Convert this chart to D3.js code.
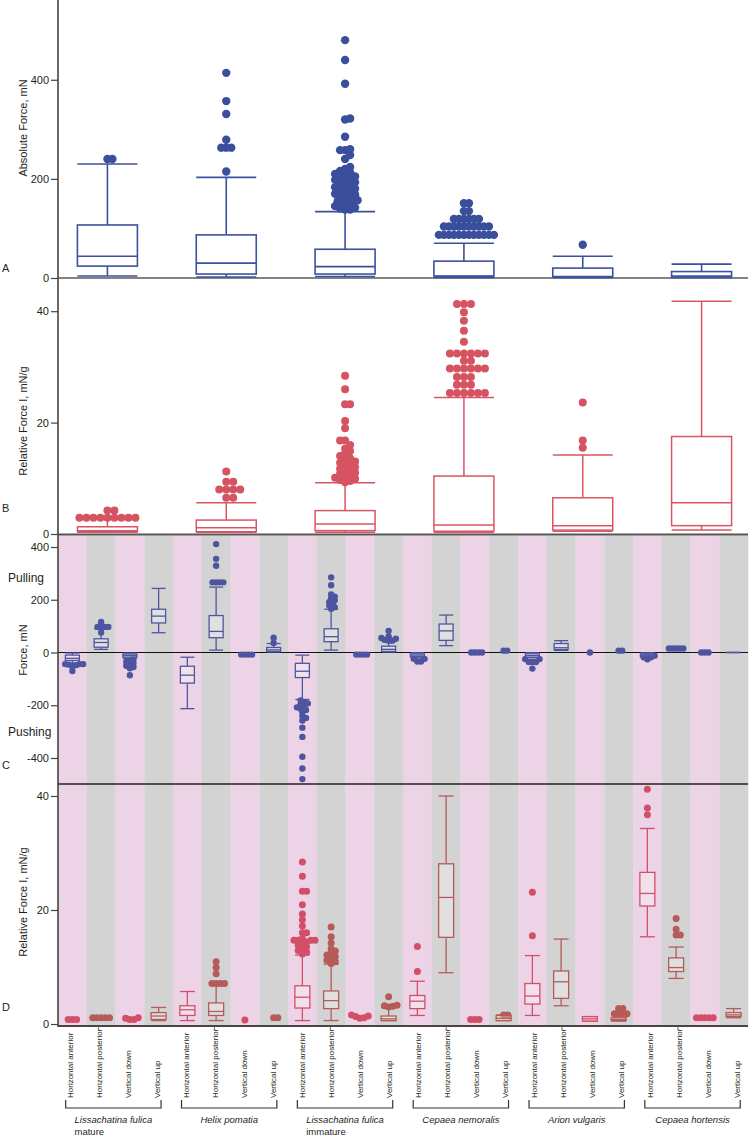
<!DOCTYPE html>
<html lang="en">
<head>
<meta charset="utf-8">
<script src="https://cdnjs.cloudflare.com/ajax/libs/d3/7.8.5/d3.min.js"></script>
<style>
body { margin: 0; background: #fff; }
svg { display: block; }
text { font-family: 'Liberation Sans', Arial, sans-serif; fill: #231f20; }
</style>
</head>
<body>
<svg width="749" height="1137"></svg>
<script>
const species = ['Lissachatina fulica mature', 'Helix pomatia', 'Lissachatina fulica immature',
  'Cepaea nemoralis', 'Arion vulgaris', 'Cepaea hortensis'];
const speciesLines = [['Lissachatina fulica', 'mature'], ['Helix pomatia'], ['Lissachatina fulica', 'immature'],
  ['Cepaea nemoralis'], ['Arion vulgaris'], ['Cepaea hortensis']];
const directions = ['Horizontal anterior', 'Horizontal posterior', 'Vertical down', 'Vertical up'];

// box stats: [low whisker, q1, median, q3, high whisker]
const absStats = [
  [4, 24, 44, 107, 230],
  [2, 8, 30, 87, 203],
  [3, 8, 23, 58, 134],
  [1, 3, 4, 34, 70],
  [1, 2, 3, 20, 44],
  [1, 2, 4, 13, 28]
];
const absOutliers = [
  [240, 240],
  [215, 263, 263, 263, 279, 331, 357, 414],
  [138, 138, 140, 142, 145, 147, 150, 152, 155, 157, 160, 163, 165, 168, 170, 173, 175, 178,
   180, 183, 185, 188, 190, 193, 196, 198, 200, 203, 205, 208, 210, 213, 216, 220, 224,
   240, 248, 258, 258, 260, 285, 320, 322, 392, 440, 480],
  [87, 87, 87, 87, 87, 87, 87, 87, 87, 87, 87, 87, 104, 104, 104, 104, 104, 104, 104, 104, 104, 104,
   119, 119, 119, 119, 119, 119, 135, 135, 151, 151],
  [67],
  []
];

const relStats = [
  [0.3, 0.4, 0.6, 1.3, 2.9],
  [0.3, 0.4, 1.1, 2.5, 5.6],
  [0.3, 0.6, 1.8, 4.2, 9.2],
  [0.3, 0.5, 1.6, 10.4, 24.5],
  [0.5, 0.7, 1.5, 6.5, 14.2],
  [0.7, 1.5, 5.6, 17.5, 41.8]
];
const relOutliers = [
  [2.9, 2.9, 2.9, 2.9, 2.9, 2.9, 2.9, 2.9, 2.9, 4.2, 4.2],
  [6.5, 6.5, 8.0, 8.0, 8.0, 8.0, 9.4, 9.4, 11.2],
  [9.3, 9.5, 9.7, 9.9, 10.1, 10.3, 10.5, 10.8, 11.0, 11.2, 11.5, 11.7, 12.0, 12.2, 12.5, 12.8, 13.0, 13.3,
   13.6, 14.0, 14.4, 14.9, 15.3, 16.0, 16.8, 16.8, 19.0, 20.3, 23.3, 23.3, 26.0, 28.4],
  [25.3, 25.3, 25.3, 25.3, 25.3, 25.3, 26.8, 26.8, 26.8, 28.2, 28.2, 28.2, 29.7, 29.7, 29.7, 29.7, 29.7, 29.7,
   31.1, 31.1, 32.4, 32.4, 32.4, 32.4, 32.4, 32.4, 34.5, 36.5, 38.3, 39.8, 41.3, 41.3, 41.3],
  [15.5, 16.8, 23.6],
  []
];

// 24 columns: species x direction
const forceStats = [
  [-40, -30, -22, -10, -2], [12, 20, 38, 52, 90], [-22, -18, -12, -6, -2], [75, 112, 138, 164, 243],
  [-213, -116, -86, -52, -18], [9, 56, 80, 140, 248], null, [2, 4, 10, 19, 34],
  [-178, -95, -71, -41, -10], [9, 41, 60, 90, 164], null, [2, 4, 12, 24, 41],
  [-20, -16, -10, -5, -1], [26, 46, 82, 108, 142], null, null,
  [-20, -18, -12, -5, -1], [8, 11, 18, 34, 45], null, null,
  [-18, -15, -10, -5, -1], null, null, [0, 0, 0, 0, 0]
];
const forceOutliers = [
  [-44, -44, -44, -46, -48, -52, -70], [76, 97, 97, 97, 97, 116],
  [-25, -30, -35, -40, -45, -50, -55, -60, -86], [],
  [], [266, 266, 266, 266, 329, 355, 411], [-8, -8, -8, -8], [36, 56],
  [-182, -188, -193, -198, -203, -208, -213, -218, -225, -240, -248, -258, -285, -320, -395, -440, -480],
  [166, 172, 178, 185, 192, 198, 205, 212, 220, 255, 285], [-8, -8, -8, -8],
  [45, 45, 48, 52, 55, 61, 82],
  [-24, -24, -34, -34], [], [0, 0, 0, 0], [7, 7],
  [-25, -25, -36, -36, -36, -61], [], [0], [7, 7],
  [-12, -12, -18, -18, -26], [15, 15, 15, 15, 15], [0, 0, 0], []
];

const relDirStats = [
  null, null, null, [0.6, 0.8, 1.4, 2.0, 2.9],
  [0.6, 1.5, 2.5, 3.2, 5.7], [0.6, 1.5, 2.2, 3.7, 7.1], null, null,
  [0.6, 2.8, 4.7, 6.7, 12.1], [0.6, 2.7, 4.1, 5.8, 10.5], null, [0.6, 0.6, 0.9, 1.4, 2.9],
  [1.5, 2.7, 4.0, 5.0, 7.5], [9.0, 15.2, 22.2, 28.1, 40.0], null, [0.6, 0.6, 1.0, 1.5, 1.6],
  [1.5, 3.5, 4.9, 7.1, 12.0], [3.2, 4.5, 7.4, 9.3, 14.9], [0.5, 0.5, 0.9, 1.3, 1.3], [0.5, 0.6, 0.8, 1.1, 1.5],
  [15.3, 20.7, 22.9, 26.6, 34.3], [8.0, 9.2, 9.9, 11.6, 13.5], null, [1.1, 1.3, 1.6, 2.0, 2.7]
];
const relDirOutliers = [
  [0.8, 0.8, 0.8], [1.1, 1.1, 1.1, 1.1, 1.1], [0.8, 0.8, 1.0, 1.1], [],
  [], [7.1, 7.1, 7.1, 7.1, 8.8, 9.9, 10.9], [0.7], [1.1, 1.1],
  [12.3, 12.6, 12.9, 13.2, 13.5, 13.8, 14.1, 14.4, 14.7, 14.7, 14.7, 14.7, 15.0,
   16.0, 16.0, 17.2, 18.3, 19.3, 20.9, 23.3, 23.3, 25.9, 28.4],
  [10.6, 10.9, 11.2, 11.5, 11.8, 12.1, 12.4, 12.8, 13.2, 14.2, 15.3, 17.0],
  [1.0, 1.1, 1.3, 1.4, 1.6], [3.0, 3.1, 3.2, 3.3, 4.8],
  [9.2, 13.6], [], [0.8, 0.8, 0.8], [1.6, 1.6],
  [15.5, 23.1], [], [], [1.8, 1.8, 1.8, 1.8, 2.7, 2.7],
  [36.7, 37.9, 41.2], [15.6, 15.6, 16.6, 18.5], [1.1, 1.1, 1.1, 1.1, 1.1], []
];

const aTicks = [0, 200, 400];
const bTicks = [0, 20, 40];
const cTicks = [-400, -200, 0, 200, 400];
const dTicks = [0, 20, 40];

const svg = d3.select('svg');
const left = 58, right = 748;
const columns = d3.range(24);

const xGroup = d3.scaleBand().domain(species).range([48, 761]);
const xCol = d3.scaleBand().domain(columns).range([left, right]);
const xLab = d3.scaleBand().domain(columns).range([56.2, 751.2]);
const gc = s => xGroup(s) + xGroup.bandwidth() / 2;
const cc = i => xCol(i) + xCol.bandwidth() / 2;
const lc = i => xLab(i) + xLab.bandwidth() / 2;

const yA = d3.scaleLinear().domain([0, 561]).range([278, 0]);
const yB = d3.scaleLinear().domain([0, 45.6]).range([534, 280]);
const yC = d3.scaleLinear().domain([-498.6, 445.5]).range([784, 535]);
const yD = d3.scaleLinear().domain([0, 42.1]).range([1024, 784]);

// stripes behind C and D
svg.append('g').selectAll('rect')
  .data(columns)
  .enter()
  .append('rect')
  .attr('x', d => xCol(d))
  .attr('y', 535.5)
  .attr('width', xCol.bandwidth() + 0.3)
  .attr('height', 1026 - 535.5)
  .attr('fill', d => d % 2 === 0 ? '#ecd4e6' : '#d3d3d3');

const hline = (y, color, w) => {
  svg.append('line')
    .attr('x1', left).attr('x2', right)
    .attr('y1', y).attr('y2', y)
    .attr('stroke', color).attr('stroke-width', w);
};
hline(yA(0), '#5a5a5a', 1.5);
hline(534.5, '#555', 2);
hline(yC(0), '#111', 1.2);
hline(784, '#222', 1.6);
hline(1026, '#4a4448', 2);

// beeswarm-ish placement for outliers
const swarm = (values, y, d) => {
  const placed = [];
  const step = d / 2;
  values.slice().sort((a, b) => a - b).forEach(v => {
    const py = y(v);
    let off = 0;
    for (let k = 0; k < 300; k++) {
      const o = (k % 2 ? 1 : -1) * Math.ceil(k / 2) * step;
      if (placed.every(p => (p.x - o) ** 2 + (p.y - py) ** 2 >= d * d)) { off = o; break; }
    }
    placed.push({ x: off, y: py });
  });
  return placed;
};

const drawBox = (g, cx, w, s, y, color, sw, fill, fillOp) => {
  if (!s) return;
  const [lo, q1, med, q3, hi] = s;
  const ln = (x1, y1, x2, y2) => g.append('line')
    .attr('x1', x1).attr('y1', y1).attr('x2', x2).attr('y2', y2)
    .attr('stroke', color).attr('stroke-width', sw);
  ln(cx, y(hi), cx, y(q3));
  ln(cx, y(q1), cx, y(lo));
  ln(cx - w / 2, y(hi), cx + w / 2, y(hi));
  ln(cx - w / 2, y(lo), cx + w / 2, y(lo));
  const top = Math.min(y(q1), y(q3));
  g.append('rect')
    .attr('x', cx - w / 2).attr('y', top)
    .attr('width', w).attr('height', Math.abs(y(q1) - y(q3)))
    .attr('fill', fill).attr('fill-opacity', fillOp)
    .attr('stroke', color).attr('stroke-width', sw);
  ln(cx - w / 2, y(med), cx + w / 2, y(med));
};

const drawDots = (g, cx, vals, y, r, d, color) => {
  g.selectAll(null)
    .data(swarm(vals, y, d))
    .enter()
    .append('circle')
    .attr('cx', p => cx + p.x)
    .attr('cy', p => p.y)
    .attr('r', r)
    .attr('fill', color);
};

// Panel A
const gA = svg.append('g');
species.forEach((s, i) => {
  drawBox(gA, gc(s), 60, absStats[i], yA, '#3b51a0', 1.6, '#fff', 1);
  drawDots(gA, gc(s), absOutliers[i], yA, 4.2, 5, '#3a4f9c');
});

// Panel B
const gB = svg.append('g');
species.forEach((s, i) => {
  drawBox(gB, gc(s), 60, relStats[i], yB, '#da5563', 1.5, '#fff', 1);
  drawDots(gB, gc(s), relOutliers[i], yB, 4, i === 2 ? 5 : 7, '#d65461');
});

// Panel C
const gC = svg.append('g');
columns.forEach(i => {
  drawDots(gC, cc(i), forceOutliers[i], yC, 3.2, 3.6, '#4d54a0');
  drawBox(gC, cc(i), 14, forceStats[i], yC, '#4f56a0', 1.3, '#fff', 0.3);
});

// Panel D
const gD = svg.append('g');
columns.forEach(i => {
  const col = i % 2 === 0 ? '#d24f69' : '#b65a5a';
  drawDots(gD, cc(i), relDirOutliers[i], yD, 3.5, 4.2, col);
  drawBox(gD, cc(i), 15, relDirStats[i], yD, col, 1.3, '#fff', 0.3);
});

// y axes
const yAxis = (scale, ticks) => {
  const g = svg.append('g')
    .attr('transform', `translate(${left},0)`)
    .call(d3.axisLeft(scale).tickValues(ticks).tickSize(7).tickPadding(2).tickFormat(d => String(d)));
  g.select('.domain').remove();
  g.selectAll('.tick line').attr('stroke', '#444').attr('stroke-width', 1.2);
  g.selectAll('.tick text').style('font-size', '11px').style('font-family', "'Liberation Sans', Arial, sans-serif").attr('fill', '#231f20');
};
yAxis(yA, aTicks);
yAxis(yB, bTicks);
yAxis(yC, cTicks);
yAxis(yD, dTicks);

svg.append('line')
  .attr('x1', left).attr('x2', left)
  .attr('y1', 0).attr('y2', 1027)
  .attr('stroke', '#444').attr('stroke-width', 1.6);

// titles
const vTitle = (txt, cy) => {
  svg.append('text')
    .attr('transform', `translate(23,${cy}) rotate(-90)`)
    .attr('text-anchor', 'middle')
    .attr('dy', '0.35em')
    .style('font-size', '11px')
    .text(txt);
};
vTitle('Absolute Force, mN', 128);
vTitle('Relative Force I, mN/g', 421);
vTitle('Force, mN', 650);
vTitle('Relative Force I, mN/g', 902);

const label = (txt, x, y, size) => {
  svg.append('text').attr('x', x).attr('y', y).style('font-size', size + 'px').text(txt);
};
label('A', 2, 272, 11);
label('B', 2, 512, 11);
label('C', 2, 769, 11);
label('D', 2, 1011, 11);
label('Pulling', 8, 582, 12);
label('Pushing', 8, 736, 12);

// column labels
svg.append('g').selectAll('text')
  .data(columns)
  .enter()
  .append('text')
  .attr('transform', d => `translate(${lc(d)},1098) rotate(-90)`)
  .attr('dy', '0.35em')
  .style('font-size', '8px')
  .text(d => directions[d % 4]);

// small marks under the axis
svg.append('g').selectAll('line')
  .data(d3.range(6))
  .enter()
  .append('line')
  .attr('x1', g => lc(g * 4 + 1) - 1).attr('x2', g => lc(g * 4 + 1) - 1)
  .attr('y1', 1027).attr('y2', 1030)
  .attr('stroke', '#555').attr('stroke-width', 0.8);

// brackets and species names
species.forEach((s, g) => {
  const bl = lc(g * 4) - 5, br = lc(g * 4 + 3) + 3.5;
  svg.append('path')
    .attr('d', `M${bl},1100V1108H${br}V1100`)
    .attr('fill', 'none')
    .attr('stroke', '#333')
    .attr('stroke-width', 1.2);
  const mid = (bl + br) / 2;
  const lines = speciesLines[g];
  const t1 = svg.append('text')
    .attr('x', mid).attr('y', 1123)
    .attr('text-anchor', 'middle')
    .style('font-size', '9.5px')
    .style('font-style', 'italic')
    .text(lines[0]);
  if (lines[1]) {
    const w = t1.node().getComputedTextLength();
    svg.append('text')
      .attr('x', mid - w / 2).attr('y', 1135)
      .style('font-size', '9.5px')
      .text(lines[1]);
  }
});
</script>
</body>
</html>
